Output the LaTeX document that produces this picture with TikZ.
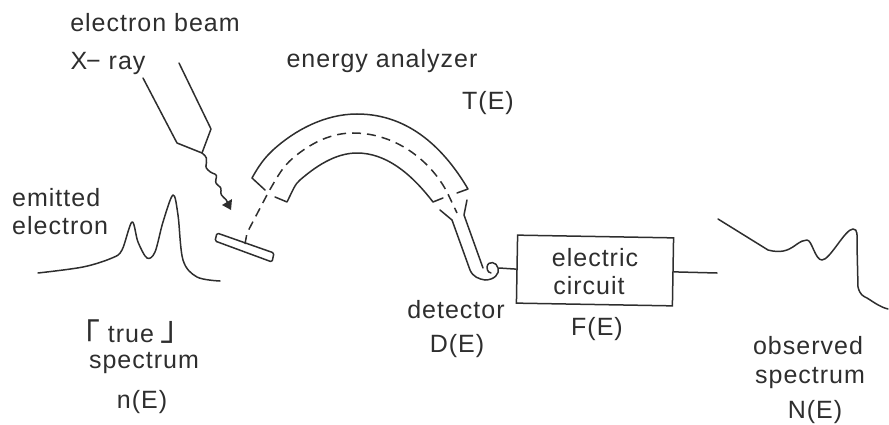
\documentclass[tikz,border=0pt]{standalone}
\usepackage{fontspec}
\setmainfont[LetterSpace=4]{Liberation Sans}
\newfontfamily\cjk{Noto Sans CJK JP}
\usetikzlibrary{decorations.pathmorphing,arrows.meta}
\definecolor{ink}{HTML}{2E2E2E}
\tikzset{
  ln/.style={draw=ink,line width=1.5pt,line join=round,line cap=round},
  dsh/.style={draw=ink,line width=1.5pt,dash pattern=on 9pt off 6pt},
  lbl/.style={text=ink,font=\fontsize{25}{27}\selectfont,inner sep=0pt,anchor=base},
  brk/.style={text=ink,font=\fontsize{34}{36}\selectfont\cjk,inner sep=0pt,anchor=base}
}
\begin{document}
\begin{tikzpicture}[x=1pt,y=-1pt]
\useasboundingbox (0,0) rectangle (889,425);
% labels
\node[lbl] (t1) at (155,32) {electron beam};
\node[lbl] (t2) at (108,70) {X\kern-1pt− ray};
\node[lbl] (t3) at (382,68) {energy analyzer};
\node[lbl] (t4) at (488,110) {T(E)};
\node[lbl,anchor=base west] (t5) at (12,206) {emitted};
\node[lbl,anchor=base west] (t6) at (12,234) {electron};
\node[lbl] (t7) at (131,342) {true};
\node[brk] (t7a) at (83,348.5) {「};
\node[brk] (t7b) at (177.5,340) {」};
\node[lbl] (t8) at (144,368) {spectrum};
\node[lbl] (t9) at (142,408) {n(E)};
\node[lbl] (t10) at (456,318) {detector};
\node[lbl] (t11) at (457,352) {D(E)};
\node[lbl] (t12) at (595,266) {electric};
\node[lbl] (t13) at (589,294) {circuit};
\node[lbl] (t14) at (597,335) {F(E)};
\node[lbl] (t15) at (808,354) {observed};
\node[lbl] (t16) at (810,383) {spectrum};
\node[lbl] (t17) at (815,418) {N(E)};
% beam source
\draw[ln] (143,78) -- (177,143) -- (202,153) -- (211,129) -- (179,63);
\coordinate (tip) at (202,153);
\coordinate (hit) at (231,210);
\draw[ln] (tip) .. controls (212,160) and (202,165) .. (208,170)
  .. controls (214,176) and (218,172) .. (216,179)
  .. controls (214,187) and (222,184) .. (221,191)
  .. controls (220,198) and (226,196) .. (228,204);
\fill[ink] (hit) -- (222,205) -- (232,199) -- cycle;
% true spectrum
\draw[ln] plot[smooth,tension=0.55] coordinates {(38,273) (83,267) (112,258) (122,250) (132,222) (138,242) (147,258) (155,252) (163,222) (173,195) (178,215) (183,260) (197,277) (220,281)};
% sample
\draw[ln,rounded corners=1.5pt] (217,233) -- (215,241) -- (272,262) -- (274,253) -- cycle;
\coordinate (smp) at (245,244);
% analyzer
\draw[ln] (275,197) -- (287,202) .. controls (293,190) and (295,184) .. (300,180)
  .. controls (315,167) and (335,153) .. (357,153)
  .. controls (385,153) and (410,172) .. (433,202) -- (443,198);
\draw[ln] (265,190) -- (252,178) .. controls (262,160) and (268,155) .. (273,150)
  .. controls (295,130) and (325,114) .. (357,114)
  .. controls (410,114) and (445,150) .. (468,189) -- (457,193);
\draw[dsh] (smp) -- (247,233) -- (268,193) .. controls (280,172) and (283,167) .. (293,158)
  .. controls (312,142) and (332,133) .. (353,133)
  .. controls (395,133) and (430,160) .. (447,192) -- (457,213);
% detector
\draw[ln] (440,210) -- (452,220) -- (470,270) .. controls (473,277) and (479,279) .. (485,280);
\draw[ln] (467,200) -- (464,215) -- (483,268);
\draw[ln] (485,280) .. controls (494,280) and (500,274) .. (498,268)
  .. controls (497,262) and (488,260) .. (487,267) .. controls (487,272) and (490,273) .. (491,273);
\coordinate (coil) at (499,268);
% circuit
\node[draw=ink,line width=1.5pt,minimum width=156pt,minimum height=68pt,inner sep=0pt,rotate=-1] (box) at (595,270.5) {};
\coordinate (out) at (717,273);
\draw[ln] (coil) -- (box.west);
\draw[ln] (box.east) -- (out);
% observed spectrum
\draw[ln] (718,219) -- (768,250) .. controls (775,252) and (782,252) .. (787,250)
  .. controls (795,247) and (800,240) .. (807,240) .. controls (812,240) and (815,260) .. (822,260)
  .. controls (830,260) and (845,229) .. (853,229) .. controls (858,229) and (857,235) .. (857,245)
  -- (858,287) .. controls (860,295) and (863,296) .. (867,298) .. controls (875,303) and (880,307) .. (888,309);
\end{tikzpicture}
\end{document}
